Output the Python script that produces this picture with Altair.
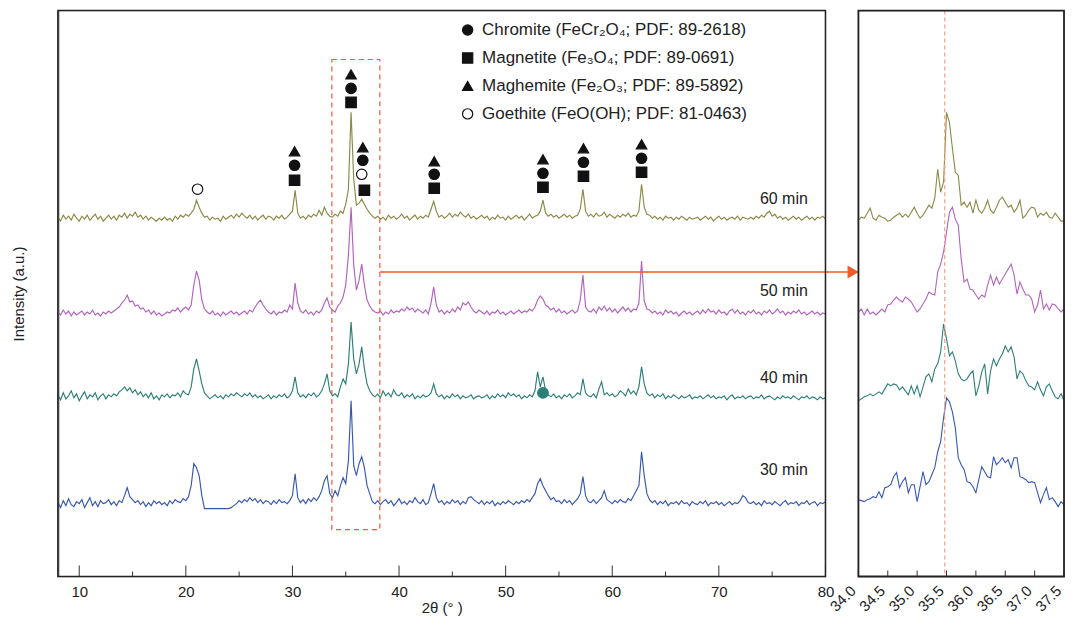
import altair as alt
import pandas as pd
import numpy as np

# ---------------- data ----------------
series_names = ["60 min", "50 min", "40 min", "30 min"]
series_colors = ["#8a8945", "#b163bd", "#2c7f77", "#3758b2"]

# main scan: 2θ 8–80°, step 0.25°  (heights above each trace's baseline, a.u.)
main_start, main_step = 8.0, 0.25
h60 = [
    2, -2, 4, 0, 3, -1, 5, 1, -2, 3, 0, 4, -1, 2, 5, 0, 3, -2, 1, 4,
    0, 3, -1, 4, 2, 6, 1, 5, 3, 7, 2, 4, 0, 3, -1, 2, 0, -2, 1, -1,
    2, -1, 1, -2, 3, 0, 4, 2, 5, 3, 6, 10, 19, 12, 6, 2, 3, -1, 2, 0,
    1, -2, 3, 0, 2, 4, 1, 5, 2, 6, 3, 1, 4, 0, 3, -1, 2, 4, 0, 3,
    2, -1, 3, 1, 4, 0, 2, 5, 8, 29, 6, 1, 3, 0, 4, 2, 5, 3, 9, 4,
    12, 6, 3, 2, 5, 3, 8, 6, 15, 30, 107, 40, 14, 16, 20, 15, 10, 6, 3, 1,
    3, 0, 2, -1, 4, 1, 3, 0, 2, 5, 1, 3, -1, 2, 4, 0, 3, 1, 4, 2,
    10, 18, 8, 2, 4, 1, 3, 6, 2, 5, 3, 7, 4, 2, 5, 1, 3, 0, 2, 4,
    1, 3, -1, 2, 0, 4, 1, 2, -1, 3, 0, 2, 4, 1, 3, -1, 2, 5, 1, 3,
    4, 8, 19, 6, 3, 5, 2, 4, 1, 3, 5, 2, 4, 1, 3, 4, 10, 30, 8, 3,
    5, 2, 6, 3, 4, 7, 2, 5, 3, 1, 4, 2, 5, 3, 6, 2, 4, 3, 8, 35,
    12, 5, 4, 1, 3, 0, 2, -1, 3, 1, 2, -1, 2, 0, 3, 1, -1, 2, 0, 1,
    2, -1, 1, 3, 0, 2, -2, 1, 3, 0, 2, -1, 1, 2, 0, 3, -1, 2, 1, 0,
    2, 0, 3, 1, 4, 2, 6, 8, 3, 5, 1, 3, 0, 2, -1, 1, 3, 0, 2, -1,
    1, 3, 0, 2, -1, 2, 1, 3, 0,
]
h50 = [
    3, 0, 5, 1, 4, -1, 3, 0, 2, 4, 0, 3, 1, 5, 0, 2, -1, 3, 1, 4,
    2, 4, 6, 8, 12, 15, 20, 13, 14, 9, 10, 6, 7, 3, 5, 1, 4, 0, 2, -1,
    1, 3, 2, 5, 4, 7, 3, 6, 8, 5, 10, 30, 44, 35, 15, 6, 3, 1, 4, 0,
    2, -1, 3, 0, 2, 4, 1, 3, 0, 2, 4, 1, 5, 3, 8, 12, 15, 10, 6, 3,
    1, 4, 0, 3, 2, 5, 3, 10, 6, 32, 12, 4, 2, 5, 1, 3, 0, 4, 2, 5,
    12, 17, 8, 5, 3, 9, 12, 18, 30, 60, 108, 50, 25, 35, 51, 30, 15, 9, 5, 3,
    2, 4, 0, 3, 1, 5, 2, 4, 3, 6, 4, 8, 5, 7, 3, 6, 4, 2, 5, 1,
    12, 28, 10, 3, 5, 1, 4, 2, 6, 3, 8, 5, 12, 10, 13, 8, 4, 2, 5, 3,
    1, 4, 0, 3, 2, 5, 1, 3, 0, 2, 4, 1, 3, 5, 2, 4, 3, 6, 4, 8,
    15, 19, 16, 10, 8, 5, 7, 3, 6, 2, 4, 1, 3, 5, 2, 4, 15, 40, 8, 4,
    3, 6, 2, 8, 5, 9, 4, 7, 3, 6, 2, 5, 8, 4, 7, 3, 6, 5, 12, 54,
    14, 6, 5, 2, 4, 1, 3, 0, 5, 2, 4, 1, 3, -1, 2, 4, 1, 3, 0, 2,
    4, 1, 5, 2, 6, 3, 4, 1, 5, 2, 3, 0, 4, 6, 2, 5, 1, 3, 0, 4,
    2, 5, 1, 3, 0, 4, 2, 5, 1, 3, 6, 2, 4, 0, 3, 1, 4, 2, 5, 1,
    3, 0, 2, 4, 1, 3, 0, 2, 1,
]
h40 = [
    4, -1, 6, 0, 3, 8, 1, 5, -2, 3, 7, 0, 4, 2, 6, -1, 3, 5, 0, 4,
    2, 5, 3, 7, 9, 12, 8, 11, 6, 9, 4, 7, 2, 5, 1, 6, 0, 3, -1, 4,
    2, 5, 1, 4, 3, 6, 2, 8, 5, 4, 12, 30, 40, 28, 15, 6, 3, 0, 2, 4,
    1, 3, 0, 4, 2, 5, 3, 6, 4, 2, 5, 3, 6, 2, 4, 1, 3, 0, 2, 4,
    0, 3, 1, 4, 2, 5, 1, 3, 8, 22, 6, 2, 4, 1, 5, 3, 6, 2, 4, 8,
    15, 25, 8, 3, 5, 2, 12, 20, 15, 35, 77, 40, 25, 35, 52, 30, 15, 8, 4, 2,
    5, 1, 8, 3, 6, 2, 9, 4, 3, 6, 1, 4, 2, 5, 0, 3, 1, 4, 2, 3,
    6, 15, 5, 2, 4, 0, 3, 1, 5, 2, 4, 0, 3, 1, 2, 4, 0, 2, 3, 1,
    2, 4, 0, 3, 1, 5, 2, 4, 1, 6, 3, 5, 2, 4, 0, 3, 1, 4, 2, 8,
    27, 12, 22, 8, 4, 2, 5, 1, 3, 0, 4, 2, 5, 1, 3, 6, 4, 20, 6, 3,
    2, 5, 1, 10, 17, 4, 6, 3, 5, 2, 4, 8, 6, 3, 10, 5, 8, 4, 12, 32,
    15, 6, 3, 5, 1, 4, 2, 5, 0, 3, 1, 4, 2, 0, 3, 1, 2, 4, 0, 2,
    1, 3, 0, 2, 4, 1, 3, 0, 2, 1, 3, -1, 2, 4, 0, 2, 1, 3, 0, 2,
    3, 0, 2, 1, 4, 0, 2, 3, 1, -1, 2, 0, 3, 1, 2, 0, 3, 1, -1, 2,
    1, 3, 0, 2, 1, -1, 2, 0, 1,
]
h30 = [
    3, -2, 5, 0, 7, 1, -1, 4, 2, 6, -2, 3, 8, 0, 4, -1, 5, 2, 3, 6,
    1, 4, 0, 5, 3, 10, 18, 9, 6, 3, 5, 1, 4, -1, 3, 0, 5, 2, 4, 1,
    3, 0, 5, 2, 6, 4, 3, 7, 5, 9, 20, 42, 38, 30, 10, -3, -3, -3, -3, -3,
    -3, -3, -3, -3, -3, -2, 0, 2, 5, 3, 6, 4, 8, 5, 7, 3, 6, 2, 5, 4,
    1, 5, 2, 6, 3, 4, 2, 5, 10, 32, 8, 3, 6, 2, 7, 4, 8, 5, 9, 15,
    25, 30, 12, 8, 15, 10, 20, 28, 22, 45, 105, 40, 30, 42, 49, 38, 20, 12, 4, 2,
    5, 1, 4, 6, 2, 5, 0, 3, 7, 2, 4, 1, 5, 3, 8, 4, 2, 6, 1, 3,
    12, 22, 8, 3, 5, 1, 4, 2, 6, 3, 5, 1, 4, 2, 8, 9, 6, 4, 2, 5,
    1, 4, 2, 5, 0, 3, 1, 4, 2, 5, 3, 1, 4, 2, 5, 3, 6, 4, 8, 12,
    22, 27, 20, 15, 10, 6, 8, 4, 5, 2, 6, 3, 5, 1, 4, 7, 12, 29, 10, 4,
    3, 6, 2, 5, 8, 15, 6, 4, 2, 5, 3, 6, 4, 3, 7, 5, 10, 15, 20, 54,
    30, 12, 6, 3, 5, 1, 4, 2, 5, 0, 3, 2, 4, 1, 5, 2, 3, 0, 4, 2,
    1, 4, 2, 5, 0, 3, 2, 4, 1, 3, 0, 2, 4, 1, 3, 2, 5, 10, 8, 3,
    2, 4, 1, 3, 0, 5, 2, 3, 1, 4, 2, 0, 3, 5, 1, 3, 2, 4, 0, 3,
    2, 5, 1, 3, 4, 0, 3, 2, 4,
]
main_offsets = [358, 262, 178, 71]

# enlarged scan: 2θ 34.0–37.5°, step 0.05°
zoom_start, zoom_step = 34.0, 0.05
z60 = [0, 3, 2, 7, 12, 2, 0, 5, 3, 2, -1, 0, 3, 5, 7, 3, 6, 3, 8, 13,
       7, 2, 5, 10, 15, 12, 22, 51, 28, 38, 108, 98, 72, 48, 45, 15, 18, 13, 18, 7,
       20, 10, 7, 12, 20, 10, 7, 13, 20, 23, 18, 13, 15, 8, 12, 20, 2, 5, 10, 13,
       12, 3, 7, 5, 8, 3, 2, 7, 3, -1, -1]
z50 = [0, 3, -3, 3, -2, 0, -3, 0, 3, 0, 7, 8, 12, 15, 12, 10, 15, 13, 10, 5,
       0, 3, 8, 13, 20, 18, 17, 40, 48, 60, 80, 100, 105, 93, 87, 53, 30, 33, 23, 22,
       17, 13, 17, 15, 27, 37, 27, 35, 28, 33, 38, 43, 48, 37, 18, 30, 23, 17, 17, 13,
       0, 7, 22, 3, 8, 2, 8, 7, 3, 0, 3]
z40 = [-2, 0, 2, 3, 5, 3, 5, 7, 5, 10, 15, 13, 15, 14, 9, 12, 8, 4, 13, 5,
       13, 2, 12, 22, 25, 17, 30, 35, 47, 75, 60, 43, 47, 38, 25, 20, 18, 20, 25, 28,
       3, 13, 27, 35, 5, 28, 40, 33, 40, 45, 53, 47, 52, 42, 20, 28, 25, 18, 13, 12,
       9, 17, 9, 3, 12, 15, 8, 2, 0, 5, -2]
z30 = [0, -1, -2, 0, 1, 3, 2, 8, 2, 12, 13, 15, 23, 27, 12, 18, 22, 7, 15, 15,
       -2, 13, 28, 15, 18, 25, 32, 48, 58, 82, 102, 98, 88, 72, 42, 35, 30, 18, 17, 13,
       7, 20, 33, 28, 23, 22, 43, 35, 38, 42, 37, 40, 32, 42, 42, 23, 22, 20, 17, 18,
       17, 7, -3, 5, 12, 0, 2, -2, -7, -2, -5]
zoom_offsets = [357, 265, 178, 77]

# phase reference markers
phases = [
    "Chromite (FeCr₂O₄; PDF: 89-2618)",
    "Magnetite (Fe₃O₄; PDF: 89-0691)",
    "Maghemite (Fe₂O₃; PDF: 89-5892)",
    "Goethite (FeO(OH); PDF: 81-0463)",
]
phase_shapes = ["circle", "square", "triangle-up", "circle"]
phase_fills = ["#111111", "#111111", "#111111", "#ffffff"]
phase_strokes = ["#111111", "#111111", "#111111", "#111111"]
marker_theta = [21.1, 30.2, 30.2, 30.2, 35.5, 35.5, 35.5, 36.6, 36.6, 36.5, 36.75,
                43.3, 43.3, 43.3, 53.5, 53.5, 53.5, 57.3, 57.3, 57.3, 62.75, 62.75, 62.75]
marker_phase = [3, 2, 0, 1, 2, 0, 1, 2, 0, 3, 1, 2, 0, 1, 2, 0, 1, 2, 0, 1, 2, 0, 1]
marker_y = [388, 426, 412, 397, 503, 489, 475, 430, 417, 403, 387,
            416, 403, 389, 418, 404, 390, 429, 415, 401, 433, 419, 405]

label_theta = [76.1, 76.1, 76.1, 76.1]
label_y = [378, 286, 199, 107]

main_ticks_major = [10, 20, 30, 40, 50, 60, 70, 80]
main_ticks_minor = [15, 25, 35, 45, 55, 65, 75]
zoom_ticks = [34.0, 34.5, 35.0, 35.5, 36.0, 36.5, 37.0, 37.5]

box_theta = [33.7, 38.2]
box_y = [47, 518]
arrow_theta = [38.2, 82.1, 82.6]
arrow_y = 305
dashed_ref = 35.47
extra_dot = (53.5, 184)

MAIN_W, ZOOM_W, H = 769, 206, 567

# ---------------- frames ----------------
def trace_df(lists, offsets, start, step):
    rows = []
    for name, vals, off in zip(series_names, lists, offsets):
        for i, v in enumerate(vals):
            rows.append({"theta": round(start + step * i, 3), "I": v + off, "series": name})
    return pd.DataFrame(rows)

main_df = trace_df([h60, h50, h40, h30], main_offsets, main_start, main_step)
zoom_df = trace_df([z60, z50, z40, z30], zoom_offsets, zoom_start, zoom_step)

marker_df = pd.DataFrame({"theta": marker_theta,
                          "phase": [phases[k] for k in marker_phase],
                          "I": marker_y})
label_df = pd.DataFrame({"theta": label_theta, "I": label_y, "text": series_names})

xs_main = alt.Scale(domain=[8, 80], nice=False, zero=False)
xs_zoom = alt.Scale(domain=[34, 37.5], nice=False, zero=False)
ys = alt.Scale(domain=[0, H], nice=False, zero=False)
color = alt.Color("series:N", scale=alt.Scale(domain=series_names, range=series_colors), legend=None)

FONT = "Liberation Sans, Arial, sans-serif"
NARROW = "Liberation Sans Narrow, Arial Narrow, Liberation Sans, Arial"

main_x_axis = alt.Axis(values=main_ticks_major, ticks=False, grid=False, domain=False,
                       labelFontSize=15, labelColor="#222", labelPadding=8, labelFont=NARROW,
                       labelFlush=False,
                       title="2θ (° )", titleFontSize=15, titleFontWeight="normal",
                       titleColor="#222", titlePadding=1, titleFont=NARROW)
main_y_axis = alt.Axis(labels=False, ticks=False, grid=False, domain=True,
                       domainColor="#777", domainWidth=2,
                       title="Intensity (a.u.)", titleFontSize=15, titleFontWeight="normal",
                       titleColor="#222", titlePadding=31, titleFont=FONT)
zoom_x_axis = alt.Axis(values=zoom_ticks, format=".1f", ticks=False, grid=False, domain=False,
                       labelAngle=315, labelAlign="right", labelBaseline="bottom",
                       labelFontSize=15, labelColor="#222", labelPadding=17, labelFont=FONT,
                       labelOverlap=False, labelSeparation=0, labelBound=False, labelFlush=False,
                       title=None)

def mx(field):
    return alt.X(field, scale=xs_main, axis=main_x_axis)

def my(field):
    return alt.Y(field, scale=ys, axis=main_y_axis)

def zx(field):
    return alt.X(field, scale=xs_zoom, axis=zoom_x_axis)

def zy(field):
    return alt.Y(field, scale=ys, axis=None)

lines = alt.Chart(main_df).mark_line(strokeWidth=1.15).encode(
    x=mx("theta:Q"), y=my("I:Q"), color=color, order="theta:Q")

box = alt.Chart(pd.DataFrame({"x": [box_theta[0]], "x2": [box_theta[1]],
                              "y": [box_y[0]], "y2": [box_y[1]]})).mark_rect(
    fillOpacity=0, stroke="#ee5a3c", strokeWidth=1.2, strokeDash=[5, 4]).encode(
    x=mx("x:Q"), x2="x2:Q", y=my("y:Q"), y2="y2:Q")

arrow_line = alt.Chart(pd.DataFrame({"x": [arrow_theta[0]], "x2": [arrow_theta[1]], "y": [arrow_y]})).mark_rule(
    color="#f05a28", strokeWidth=1.5).encode(x=mx("x:Q"), x2="x2:Q", y=my("y:Q"))
arrow_head = alt.Chart(pd.DataFrame({"x": [arrow_theta[2]], "y": [arrow_y]})).mark_point(
    shape="triangle-right", filled=True, size=170, color="#f05a28", opacity=1).encode(
    x=mx("x:Q"), y=my("y:Q"))

phase_legend = alt.Legend(title=None, orient="none", legendX=402, legendY=11,
                          labelFontSize=17, labelFont=FONT, labelColor="#222",
                          symbolSize=105, symbolStrokeWidth=1.2, rowPadding=10,
                          labelOffset=6, labelLimit=400)
markers = alt.Chart(marker_df).mark_point(size=110, strokeWidth=1.2, fillOpacity=1, opacity=1).encode(
    x=mx("theta:Q"), y=my("I:Q"),
    shape=alt.Shape("phase:N", scale=alt.Scale(domain=phases, range=phase_shapes), legend=phase_legend),
    fill=alt.Fill("phase:N", scale=alt.Scale(domain=phases, range=phase_fills), legend=phase_legend),
    stroke=alt.Stroke("phase:N", scale=alt.Scale(domain=phases, range=phase_strokes), legend=phase_legend),
)

dot = alt.Chart(pd.DataFrame({"x": [extra_dot[0]], "y": [extra_dot[1]]})).mark_point(
    shape="circle", filled=True, size=140, color=series_colors[2], opacity=1).encode(
    x=mx("x:Q"), y=my("y:Q"))

labels = alt.Chart(label_df).mark_text(fontSize=16, font=FONT, color="#222", align="center").encode(
    x=mx("theta:Q"), y=my("I:Q"), text="text:N")

tick_major = alt.Chart(pd.DataFrame({"t": main_ticks_major})).mark_rule(color="#333", strokeWidth=1).encode(
    x=mx("t:Q"), y=alt.value(H), y2=alt.value(H - 11))
tick_minor = alt.Chart(pd.DataFrame({"t": main_ticks_minor})).mark_rule(color="#333", strokeWidth=1).encode(
    x=mx("t:Q"), y=alt.value(H), y2=alt.value(H - 5))

main_frame = alt.Chart(pd.DataFrame({"f": [0]})).mark_rect(
    fillOpacity=0, stroke="#222", strokeWidth=1.5).encode(
    x=alt.value(0), x2=alt.value(MAIN_W), y=alt.value(0), y2=alt.value(H))

main = alt.layer(lines, box, arrow_line, arrow_head, markers, dot, labels,
                 tick_major, tick_minor, main_frame).properties(width=MAIN_W, height=H)

# ---------------- enlarged panel ----------------
zlines = alt.Chart(zoom_df).mark_line(strokeWidth=1.1).encode(
    x=zx("theta:Q"), y=zy("I:Q"), color=color, order="theta:Q")
zref = alt.Chart(pd.DataFrame({"x": [dashed_ref]})).mark_rule(
    color="#f2a08a", strokeWidth=1.2, strokeDash=[4, 3]).encode(x=zx("x:Q"))
zticks = alt.Chart(pd.DataFrame({"t": zoom_ticks})).mark_rule(color="#333", strokeWidth=1).encode(
    x=zx("t:Q"), y=alt.value(H), y2=alt.value(H - 6))
zoom_frame = alt.Chart(pd.DataFrame({"f": [0]})).mark_rect(
    fillOpacity=0, stroke="#222", strokeWidth=1.8).encode(
    x=alt.value(0), x2=alt.value(ZOOM_W), y=alt.value(0), y2=alt.value(H))

zoom = alt.layer(zlines, zref, zticks, zoom_frame).properties(width=ZOOM_W, height=H)

chart = alt.hconcat(main, zoom, spacing=33, bounds="flush").properties(
    padding={"left": 3, "top": 0, "right": 0, "bottom": 0}
).configure_view(strokeWidth=0).configure(font=FONT, background="white")

chart.save("out.html", embed_options={"renderer": "svg", "actions": False})
